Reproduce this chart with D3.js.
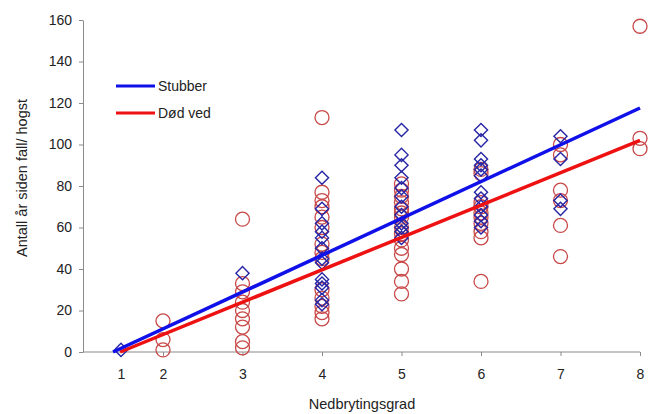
<!DOCTYPE html>
<html>
<head>
<meta charset="utf-8">
<script src="https://cdn.jsdelivr.net/npm/d3@7"></script>
<style>
  body { margin: 0; background: #fff; }
  svg text { font-family: "Liberation Sans", Arial, sans-serif; fill: #222; }
</style>
</head>
<body>
<div id="chart"></div>
<script>
// tick labels on the x axis (decomposition class)
let classes = [1, 2, 3, 4, 5, 6, 7, 8];
let yTicks = [0, 20, 40, 60, 80, 100, 120, 140, 160];

// Stubber (stumps), years since fall per class
let stubber = {
  1: [1],
  3: [38],
  4: [84, 69, 62, 58, 55, 50, 45, 43, 35, 33, 31, 25, 23],
  5: [107, 95, 90, 84, 79, 75, 70, 66, 62, 60, 58, 55],
  6: [107, 102, 93, 90, 88, 85, 77, 74, 70, 66, 63, 60],
  7: [104, 93, 73, 69]
};
// Død ved (dead wood)
let dodVed = {
  2: [15, 6, 1],
  3: [64, 33, 29, 24, 20, 16, 12, 5, 2],
  4: [113, 77, 73, 70, 65, 60, 52, 48, 45, 30, 26, 22, 19, 16],
  5: [81, 78, 75, 72, 69, 67, 65, 60, 57, 54, 50, 47, 40, 34, 28],
  6: [88, 86, 72, 70, 67, 65, 62, 58, 55, 34],
  7: [100, 95, 78, 73, 61, 46],
  8: [157, 103, 98]
};
// fitted trend lines (end points)
let stubberFitX = [0.81, 8], stubberFitY = [0, 117.6];
let dodFitX = [0.98, 8], dodFitY = [0, 102];

let width = 649, height = 414;
let plotLeft = 83, plotTop = 20, plotBottom = 352, plotRight = 640;

let svg = d3.select('#chart').append('svg')
  .attr('width', width).attr('height', height);

// the first class sits a bit away from the y axis, the rest are evenly spaced
let x = d3.scaleLinear().domain([1, 2, 8]).range([121, 163, plotRight]);
let y = d3.scaleLinear().domain([0, 160]).range([plotBottom, plotTop]);

// y axis
let yAxis = svg.append('g')
  .attr('transform', 'translate(' + plotLeft + ',0)')
  .call(d3.axisLeft(y).tickValues(yTicks).tickSize(4).tickSizeOuter(0).tickPadding(7));
yAxis.select('.domain').attr('stroke', '#8a8a8a');
yAxis.selectAll('.tick line').attr('stroke', '#8a8a8a');
yAxis.selectAll('text').style('font-size', '14px').attr('fill', '#222');

// x axis
let xAxis = svg.append('g')
  .attr('transform', 'translate(0,' + plotBottom + ')')
  .call(d3.axisBottom(x).tickValues(classes).tickFormat(d3.format('d'))
    .tickSize(4).tickSizeOuter(0).tickPadding(13));
xAxis.select('.domain').remove();
xAxis.selectAll('.tick line').attr('stroke', '#8a8a8a')
  .filter(function (d) { return d === 1; }).remove();
xAxis.selectAll('text').style('font-size', '14px').attr('fill', '#222');
svg.append('line')
  .attr('x1', plotLeft).attr('x2', plotRight)
  .attr('y1', plotBottom).attr('y2', plotBottom)
  .attr('stroke', '#8a8a8a');

// axis titles
svg.append('text')
  .attr('x', 362).attr('y', 409)
  .attr('text-anchor', 'middle')
  .style('font-size', '14.5px')
  .text('Nedbrytingsgrad');
svg.append('text')
  .attr('transform', 'translate(27,178) rotate(-90)')
  .attr('text-anchor', 'middle')
  .style('font-size', '14.5px')
  .text('Antall år siden fall/ hogst');

// flatten {class: [values]} into points
function points(obj) {
  let out = [];
  Object.keys(obj).forEach(function (k) {
    obj[k].forEach(function (v) { out.push([+k, v]); });
  });
  return out;
}

// red circles
svg.append('g').selectAll('circle')
  .data(points(dodVed))
  .enter().append('circle')
  .attr('cx', function (d) { return x(d[0]); })
  .attr('cy', function (d) { return y(d[1]); })
  .attr('r', 7)
  .attr('fill', 'none')
  .attr('stroke', '#c84848')
  .attr('stroke-width', 1.3);

// blue diamonds
let diamond = d3.symbol().type(d3.symbolDiamond2).size(110);
svg.append('g').selectAll('path')
  .data(points(stubber))
  .enter().append('path')
  .attr('d', diamond)
  .attr('transform', function (d) { return 'translate(' + x(d[0]) + ',' + y(d[1]) + ')'; })
  .attr('fill', 'none')
  .attr('stroke', '#2626a6')
  .attr('stroke-width', 1.4);

// trend lines
let line = d3.line()
  .x(function (d) { return x(d[0]); })
  .y(function (d) { return y(d[1]); });
svg.append('path')
  .datum(dodFitX.map(function (v, i) { return [v, dodFitY[i]]; }))
  .attr('d', line).attr('fill', 'none')
  .attr('stroke', '#ee1111').attr('stroke-width', 3.5);
svg.append('path')
  .datum(stubberFitX.map(function (v, i) { return [v, stubberFitY[i]]; }))
  .attr('d', line).attr('fill', 'none')
  .attr('stroke', '#1010e8').attr('stroke-width', 3.5);

// legend
let legend = [['Stubber', '#1010e8', 86], ['Død ved', '#ee1111', 113]];
legend.forEach(function (l) {
  svg.append('line')
    .attr('x1', 116).attr('x2', 155)
    .attr('y1', l[2]).attr('y2', l[2])
    .attr('stroke', l[1]).attr('stroke-width', 3);
  svg.append('text')
    .attr('x', 158).attr('y', l[2] + 5)
    .style('font-size', '14px')
    .text(l[0]);
});
</script>
</body>
</html>
